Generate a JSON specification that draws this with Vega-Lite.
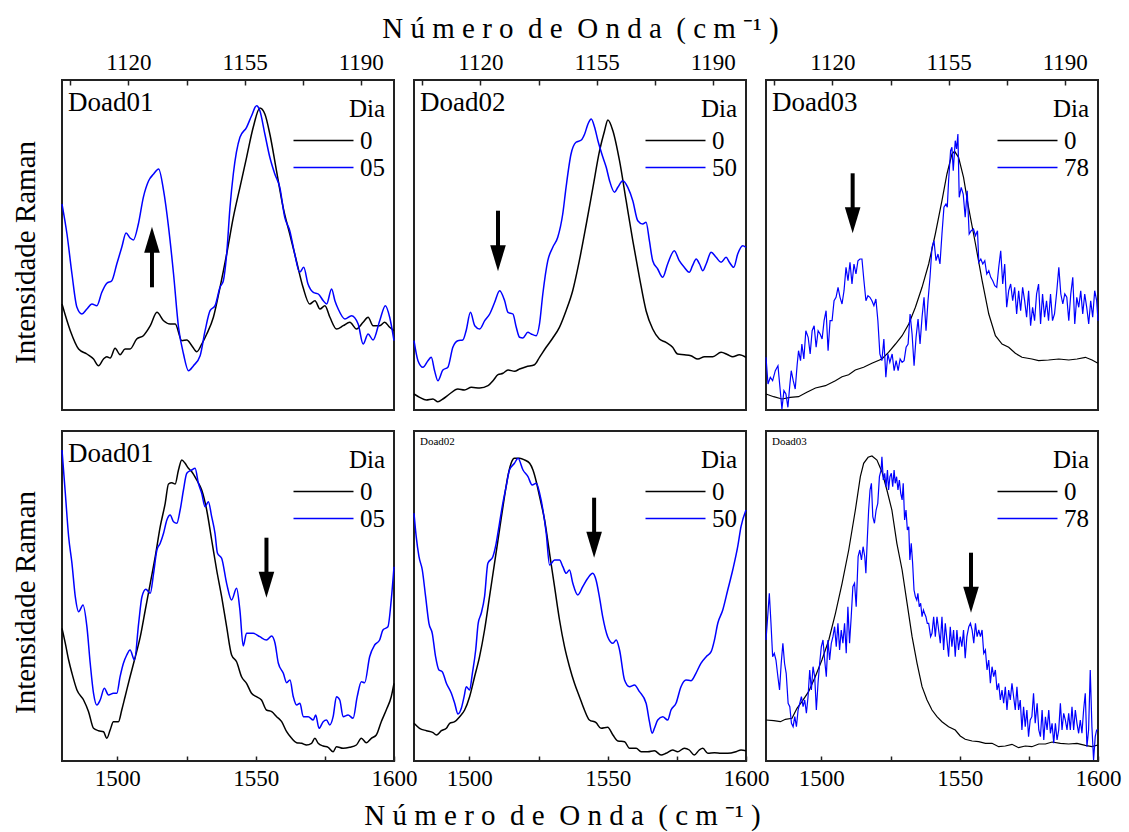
{
  "$schema": "https://vega.github.io/schema/vega-lite/v6.json",
  "background": "white",
  "padding": {"left": 10, "top": 13, "right": 5, "bottom": 5},
  "columns": 3,
  "bounds": "flush",
  "spacing": {"row": 21, "column": 20},
  "resolve": {
    "scale": {"x": "independent", "y": "independent", "color": "independent"},
    "axis": {"x": "independent", "y": "independent"},
    "legend": {"color": "independent"}
  },
  "datasets": {
    "t1": [
      {"wn":1100.0,"int":106.0,"dia":"0"},{"wn":1102.5,"int":79.3,"dia":"0"},{"wn":1105.0,"int":61.0,"dia":"0"},{"wn":1107.5,"int":56.0,"dia":"0"},{"wn":1109.5,"int":51.0,"dia":"0"},{"wn":1111.0,"int":44.3,"dia":"0"},{"wn":1112.5,"int":51.0,"dia":"0"},{"wn":1113.5,"int":53.3,"dia":"0"},{"wn":1114.5,"int":52.0,"dia":"0"},{"wn":1116.0,"int":61.7,"dia":"0"},{"wn":1117.5,"int":55.3,"dia":"0"},{"wn":1119.0,"int":61.0,"dia":"0"},{"wn":1120.5,"int":61.0,"dia":"0"},{"wn":1122.5,"int":71.0,"dia":"0"},{"wn":1124.5,"int":74.3,"dia":"0"},{"wn":1126.6,"int":84.3,"dia":"0"},{"wn":1128.6,"int":97.7,"dia":"0"},{"wn":1130.6,"int":89.3,"dia":"0"},{"wn":1132.6,"int":86.0,"dia":"0"},{"wn":1134.1,"int":86.0,"dia":"0"},{"wn":1136.1,"int":69.3,"dia":"0"},{"wn":1137.6,"int":70.0,"dia":"0"},{"wn":1139.1,"int":64.3,"dia":"0"},{"wn":1140.6,"int":58.3,"dia":"0"},{"wn":1142.1,"int":66.0,"dia":"0"},{"wn":1143.6,"int":76.0,"dia":"0"},{"wn":1145.6,"int":92.7,"dia":"0"},{"wn":1147.6,"int":122.7,"dia":"0"},{"wn":1149.6,"int":156.0,"dia":"0"},{"wn":1151.6,"int":192.7,"dia":"0"},{"wn":1153.6,"int":222.7,"dia":"0"},{"wn":1155.6,"int":252.7,"dia":"0"},{"wn":1157.6,"int":282.7,"dia":"0"},{"wn":1159.6,"int":302.0,"dia":"0"},{"wn":1161.1,"int":296.0,"dia":"0"},{"wn":1162.6,"int":276.0,"dia":"0"},{"wn":1164.6,"int":239.3,"dia":"0"},{"wn":1166.6,"int":202.7,"dia":"0"},{"wn":1168.6,"int":176.0,"dia":"0"},{"wn":1170.6,"int":149.3,"dia":"0"},{"wn":1172.6,"int":122.7,"dia":"0"},{"wn":1174.6,"int":106.0,"dia":"0"},{"wn":1176.2,"int":109.3,"dia":"0"},{"wn":1177.7,"int":101.0,"dia":"0"},{"wn":1179.2,"int":104.3,"dia":"0"},{"wn":1180.7,"int":92.7,"dia":"0"},{"wn":1182.7,"int":81.0,"dia":"0"},{"wn":1184.7,"int":84.3,"dia":"0"},{"wn":1186.7,"int":87.7,"dia":"0"},{"wn":1188.7,"int":81.0,"dia":"0"},{"wn":1190.7,"int":87.7,"dia":"0"},{"wn":1192.2,"int":92.7,"dia":"0"},{"wn":1193.7,"int":84.3,"dia":"0"},{"wn":1195.7,"int":84.3,"dia":"0"},{"wn":1197.2,"int":87.7,"dia":"0"},{"wn":1198.7,"int":82.7,"dia":"0"},{"wn":1200.0,"int":79.3,"dia":"0"},
      {"wn":1100.0,"int":206.0,"dia":"05"},{"wn":1101.5,"int":176.0,"dia":"05"},{"wn":1103.0,"int":136.0,"dia":"05"},{"wn":1104.5,"int":102.7,"dia":"05"},{"wn":1106.0,"int":96.0,"dia":"05"},{"wn":1107.5,"int":101.0,"dia":"05"},{"wn":1109.0,"int":106.0,"dia":"05"},{"wn":1110.5,"int":104.3,"dia":"05"},{"wn":1112.0,"int":117.7,"dia":"05"},{"wn":1113.5,"int":126.7,"dia":"05"},{"wn":1115.0,"int":129.3,"dia":"05"},{"wn":1116.5,"int":146.0,"dia":"05"},{"wn":1118.0,"int":162.7,"dia":"05"},{"wn":1119.3,"int":177.0,"dia":"05"},{"wn":1120.5,"int":172.0,"dia":"05"},{"wn":1121.5,"int":170.0,"dia":"05"},{"wn":1123.0,"int":186.0,"dia":"05"},{"wn":1124.5,"int":212.7,"dia":"05"},{"wn":1126.1,"int":229.3,"dia":"05"},{"wn":1127.6,"int":236.0,"dia":"05"},{"wn":1129.1,"int":241.0,"dia":"05"},{"wn":1130.6,"int":219.3,"dia":"05"},{"wn":1132.1,"int":182.7,"dia":"05"},{"wn":1133.6,"int":136.0,"dia":"05"},{"wn":1135.1,"int":82.7,"dia":"05"},{"wn":1136.6,"int":56.0,"dia":"05"},{"wn":1138.1,"int":39.3,"dia":"05"},{"wn":1139.6,"int":44.3,"dia":"05"},{"wn":1141.6,"int":54.3,"dia":"05"},{"wn":1143.1,"int":79.3,"dia":"05"},{"wn":1144.6,"int":99.3,"dia":"05"},{"wn":1146.1,"int":104.3,"dia":"05"},{"wn":1147.6,"int":122.7,"dia":"05"},{"wn":1148.6,"int":129.3,"dia":"05"},{"wn":1149.6,"int":156.0,"dia":"05"},{"wn":1150.6,"int":202.7,"dia":"05"},{"wn":1151.6,"int":236.0,"dia":"05"},{"wn":1153.6,"int":272.7,"dia":"05"},{"wn":1155.6,"int":282.7,"dia":"05"},{"wn":1157.1,"int":294.3,"dia":"05"},{"wn":1158.6,"int":304.3,"dia":"05"},{"wn":1159.6,"int":299.3,"dia":"05"},{"wn":1161.1,"int":276.0,"dia":"05"},{"wn":1162.6,"int":252.7,"dia":"05"},{"wn":1164.1,"int":236.0,"dia":"05"},{"wn":1165.6,"int":222.7,"dia":"05"},{"wn":1167.1,"int":192.7,"dia":"05"},{"wn":1168.6,"int":179.3,"dia":"05"},{"wn":1170.1,"int":156.0,"dia":"05"},{"wn":1171.6,"int":137.7,"dia":"05"},{"wn":1172.8,"int":142.7,"dia":"05"},{"wn":1174.1,"int":126.0,"dia":"05"},{"wn":1175.7,"int":117.7,"dia":"05"},{"wn":1177.2,"int":116.0,"dia":"05"},{"wn":1178.7,"int":109.3,"dia":"05"},{"wn":1179.7,"int":106.0,"dia":"05"},{"wn":1181.2,"int":121.0,"dia":"05"},{"wn":1182.2,"int":109.3,"dia":"05"},{"wn":1183.2,"int":101.0,"dia":"05"},{"wn":1185.2,"int":91.0,"dia":"05"},{"wn":1187.2,"int":94.3,"dia":"05"},{"wn":1189.2,"int":86.0,"dia":"05"},{"wn":1190.7,"int":66.0,"dia":"05"},{"wn":1192.2,"int":76.0,"dia":"05"},{"wn":1193.7,"int":70.0,"dia":"05"},{"wn":1195.7,"int":89.3,"dia":"05"},{"wn":1197.4,"int":104.3,"dia":"05"},{"wn":1198.7,"int":92.7,"dia":"05"},{"wn":1200.0,"int":69.3,"dia":"05"}
    ],
    "t2": [
      {"wn":1100.0,"int":16.0,"dia":"0"},{"wn":1101.7,"int":12.7,"dia":"0"},{"wn":1103.7,"int":10.0,"dia":"0"},{"wn":1105.7,"int":11.0,"dia":"0"},{"wn":1107.2,"int":8.3,"dia":"0"},{"wn":1108.7,"int":11.0,"dia":"0"},{"wn":1110.7,"int":16.0,"dia":"0"},{"wn":1113.2,"int":21.0,"dia":"0"},{"wn":1115.2,"int":20.0,"dia":"0"},{"wn":1117.3,"int":22.7,"dia":"0"},{"wn":1119.8,"int":22.0,"dia":"0"},{"wn":1122.3,"int":24.3,"dia":"0"},{"wn":1123.8,"int":29.3,"dia":"0"},{"wn":1125.3,"int":35.3,"dia":"0"},{"wn":1126.8,"int":36.7,"dia":"0"},{"wn":1128.3,"int":40.0,"dia":"0"},{"wn":1130.3,"int":38.7,"dia":"0"},{"wn":1131.8,"int":41.0,"dia":"0"},{"wn":1133.8,"int":43.3,"dia":"0"},{"wn":1136.3,"int":45.3,"dia":"0"},{"wn":1137.8,"int":52.7,"dia":"0"},{"wn":1139.8,"int":62.7,"dia":"0"},{"wn":1141.8,"int":72.0,"dia":"0"},{"wn":1143.8,"int":82.7,"dia":"0"},{"wn":1145.8,"int":99.3,"dia":"0"},{"wn":1147.8,"int":119.3,"dia":"0"},{"wn":1149.8,"int":149.3,"dia":"0"},{"wn":1151.9,"int":186.0,"dia":"0"},{"wn":1153.9,"int":222.7,"dia":"0"},{"wn":1155.9,"int":259.3,"dia":"0"},{"wn":1157.4,"int":279.3,"dia":"0"},{"wn":1158.4,"int":290.0,"dia":"0"},{"wn":1159.9,"int":279.3,"dia":"0"},{"wn":1161.9,"int":249.3,"dia":"0"},{"wn":1163.9,"int":209.3,"dia":"0"},{"wn":1165.9,"int":169.3,"dia":"0"},{"wn":1167.9,"int":132.7,"dia":"0"},{"wn":1169.9,"int":99.3,"dia":"0"},{"wn":1171.9,"int":81.0,"dia":"0"},{"wn":1173.9,"int":71.0,"dia":"0"},{"wn":1175.9,"int":67.7,"dia":"0"},{"wn":1177.9,"int":62.7,"dia":"0"},{"wn":1179.4,"int":56.0,"dia":"0"},{"wn":1181.4,"int":55.3,"dia":"0"},{"wn":1183.4,"int":54.3,"dia":"0"},{"wn":1185.5,"int":51.0,"dia":"0"},{"wn":1187.5,"int":53.3,"dia":"0"},{"wn":1190.0,"int":53.3,"dia":"0"},{"wn":1192.5,"int":57.7,"dia":"0"},{"wn":1194.5,"int":55.3,"dia":"0"},{"wn":1196.0,"int":53.3,"dia":"0"},{"wn":1198.0,"int":55.3,"dia":"0"},{"wn":1200.0,"int":52.7,"dia":"0"},
      {"wn":1100.0,"int":69.3,"dia":"50"},{"wn":1101.2,"int":49.3,"dia":"50"},{"wn":1102.7,"int":42.7,"dia":"50"},{"wn":1104.2,"int":49.3,"dia":"50"},{"wn":1105.2,"int":52.7,"dia":"50"},{"wn":1106.2,"int":39.3,"dia":"50"},{"wn":1107.2,"int":29.3,"dia":"50"},{"wn":1108.7,"int":40.0,"dia":"50"},{"wn":1110.2,"int":42.7,"dia":"50"},{"wn":1111.7,"int":62.7,"dia":"50"},{"wn":1113.2,"int":69.3,"dia":"50"},{"wn":1114.7,"int":70.0,"dia":"50"},{"wn":1115.7,"int":79.3,"dia":"50"},{"wn":1117.0,"int":97.7,"dia":"50"},{"wn":1118.3,"int":84.3,"dia":"50"},{"wn":1119.8,"int":81.0,"dia":"50"},{"wn":1121.3,"int":89.3,"dia":"50"},{"wn":1122.8,"int":96.0,"dia":"50"},{"wn":1124.3,"int":107.7,"dia":"50"},{"wn":1125.8,"int":119.3,"dia":"50"},{"wn":1127.3,"int":109.3,"dia":"50"},{"wn":1128.3,"int":97.7,"dia":"50"},{"wn":1129.8,"int":96.0,"dia":"50"},{"wn":1130.8,"int":82.7,"dia":"50"},{"wn":1131.8,"int":72.7,"dia":"50"},{"wn":1132.8,"int":72.0,"dia":"50"},{"wn":1134.3,"int":77.7,"dia":"50"},{"wn":1135.3,"int":76.0,"dia":"50"},{"wn":1136.8,"int":74.3,"dia":"50"},{"wn":1137.8,"int":86.0,"dia":"50"},{"wn":1138.8,"int":116.0,"dia":"50"},{"wn":1140.3,"int":149.3,"dia":"50"},{"wn":1141.8,"int":162.7,"dia":"50"},{"wn":1143.3,"int":172.7,"dia":"50"},{"wn":1144.8,"int":196.0,"dia":"50"},{"wn":1145.8,"int":222.7,"dia":"50"},{"wn":1147.3,"int":256.0,"dia":"50"},{"wn":1148.8,"int":267.7,"dia":"50"},{"wn":1150.4,"int":270.0,"dia":"50"},{"wn":1151.4,"int":276.0,"dia":"50"},{"wn":1152.4,"int":286.0,"dia":"50"},{"wn":1153.4,"int":291.0,"dia":"50"},{"wn":1154.4,"int":282.7,"dia":"50"},{"wn":1155.4,"int":269.3,"dia":"50"},{"wn":1156.9,"int":252.7,"dia":"50"},{"wn":1157.9,"int":242.7,"dia":"50"},{"wn":1158.9,"int":229.3,"dia":"50"},{"wn":1160.4,"int":217.7,"dia":"50"},{"wn":1161.4,"int":222.7,"dia":"50"},{"wn":1162.9,"int":229.3,"dia":"50"},{"wn":1164.4,"int":222.7,"dia":"50"},{"wn":1165.9,"int":209.3,"dia":"50"},{"wn":1167.4,"int":189.3,"dia":"50"},{"wn":1168.9,"int":186.0,"dia":"50"},{"wn":1169.9,"int":187.7,"dia":"50"},{"wn":1170.9,"int":169.3,"dia":"50"},{"wn":1171.9,"int":149.3,"dia":"50"},{"wn":1173.4,"int":141.0,"dia":"50"},{"wn":1174.9,"int":132.7,"dia":"50"},{"wn":1176.4,"int":146.0,"dia":"50"},{"wn":1178.4,"int":159.3,"dia":"50"},{"wn":1179.9,"int":149.3,"dia":"50"},{"wn":1181.4,"int":142.7,"dia":"50"},{"wn":1182.9,"int":137.7,"dia":"50"},{"wn":1183.9,"int":144.3,"dia":"50"},{"wn":1185.0,"int":151.0,"dia":"50"},{"wn":1186.0,"int":146.0,"dia":"50"},{"wn":1187.0,"int":139.3,"dia":"50"},{"wn":1188.0,"int":146.0,"dia":"50"},{"wn":1189.5,"int":157.7,"dia":"50"},{"wn":1191.0,"int":152.7,"dia":"50"},{"wn":1192.5,"int":147.7,"dia":"50"},{"wn":1194.0,"int":152.7,"dia":"50"},{"wn":1195.0,"int":147.7,"dia":"50"},{"wn":1196.3,"int":142.7,"dia":"50"},{"wn":1197.5,"int":156.0,"dia":"50"},{"wn":1199.0,"int":164.3,"dia":"50"},{"wn":1200.0,"int":162.7,"dia":"50"}
    ],
    "t3": [
      {"wn":1100.0,"int":16.0,"dia":"0"},{"wn":1102.3,"int":13.3,"dia":"0"},{"wn":1104.8,"int":11.0,"dia":"0"},{"wn":1107.3,"int":12.7,"dia":"0"},{"wn":1109.8,"int":13.3,"dia":"0"},{"wn":1112.3,"int":17.7,"dia":"0"},{"wn":1114.9,"int":22.0,"dia":"0"},{"wn":1117.9,"int":24.3,"dia":"0"},{"wn":1120.9,"int":29.3,"dia":"0"},{"wn":1122.9,"int":33.3,"dia":"0"},{"wn":1124.9,"int":35.3,"dia":"0"},{"wn":1126.9,"int":40.0,"dia":"0"},{"wn":1129.4,"int":42.7,"dia":"0"},{"wn":1131.9,"int":46.7,"dia":"0"},{"wn":1134.9,"int":51.0,"dia":"0"},{"wn":1136.9,"int":57.7,"dia":"0"},{"wn":1139.0,"int":66.0,"dia":"0"},{"wn":1141.0,"int":74.3,"dia":"0"},{"wn":1143.0,"int":86.0,"dia":"0"},{"wn":1145.0,"int":102.7,"dia":"0"},{"wn":1147.0,"int":122.7,"dia":"0"},{"wn":1149.0,"int":146.0,"dia":"0"},{"wn":1151.0,"int":176.0,"dia":"0"},{"wn":1153.0,"int":209.3,"dia":"0"},{"wn":1154.5,"int":236.0,"dia":"0"},{"wn":1156.0,"int":256.0,"dia":"0"},{"wn":1156.8,"int":258.7,"dia":"0"},{"wn":1158.0,"int":252.7,"dia":"0"},{"wn":1159.5,"int":232.7,"dia":"0"},{"wn":1161.0,"int":202.7,"dia":"0"},{"wn":1163.1,"int":166.0,"dia":"0"},{"wn":1165.1,"int":129.3,"dia":"0"},{"wn":1167.1,"int":96.0,"dia":"0"},{"wn":1169.1,"int":74.3,"dia":"0"},{"wn":1171.1,"int":66.0,"dia":"0"},{"wn":1173.1,"int":62.7,"dia":"0"},{"wn":1175.1,"int":56.7,"dia":"0"},{"wn":1177.1,"int":52.7,"dia":"0"},{"wn":1180.1,"int":51.0,"dia":"0"},{"wn":1182.1,"int":49.3,"dia":"0"},{"wn":1185.1,"int":50.0,"dia":"0"},{"wn":1188.2,"int":51.0,"dia":"0"},{"wn":1191.2,"int":50.0,"dia":"0"},{"wn":1193.7,"int":51.0,"dia":"0"},{"wn":1196.2,"int":52.7,"dia":"0"},{"wn":1198.2,"int":50.0,"dia":"0"},{"wn":1200.0,"int":46.7,"dia":"0"},
      {"wn":1100.0,"int":52.7,"dia":"78"},{"wn":1100.6,"int":26.0,"dia":"78"},{"wn":1101.3,"int":32.7,"dia":"78"},{"wn":1102.0,"int":29.3,"dia":"78"},{"wn":1102.8,"int":39.3,"dia":"78"},{"wn":1103.6,"int":44.3,"dia":"78"},{"wn":1104.2,"int":22.7,"dia":"78"},{"wn":1104.8,"int":1.0,"dia":"78"},{"wn":1105.4,"int":19.3,"dia":"78"},{"wn":1106.0,"int":16.0,"dia":"78"},{"wn":1106.6,"int":2.7,"dia":"78"},{"wn":1107.2,"int":26.0,"dia":"78"},{"wn":1107.6,"int":39.3,"dia":"78"},{"wn":1108.2,"int":29.3,"dia":"78"},{"wn":1108.8,"int":21.0,"dia":"78"},{"wn":1109.4,"int":46.0,"dia":"78"},{"wn":1109.8,"int":59.3,"dia":"78"},{"wn":1110.4,"int":49.3,"dia":"78"},{"wn":1110.8,"int":66.0,"dia":"78"},{"wn":1111.4,"int":51.0,"dia":"78"},{"wn":1112.0,"int":79.3,"dia":"78"},{"wn":1112.7,"int":72.7,"dia":"78"},{"wn":1113.3,"int":56.0,"dia":"78"},{"wn":1113.9,"int":79.3,"dia":"78"},{"wn":1114.5,"int":84.3,"dia":"78"},{"wn":1115.1,"int":62.7,"dia":"78"},{"wn":1115.7,"int":79.3,"dia":"78"},{"wn":1116.3,"int":76.0,"dia":"78"},{"wn":1116.9,"int":71.0,"dia":"78"},{"wn":1117.5,"int":89.3,"dia":"78"},{"wn":1118.1,"int":99.3,"dia":"78"},{"wn":1118.7,"int":59.3,"dia":"78"},{"wn":1119.3,"int":89.3,"dia":"78"},{"wn":1119.9,"int":89.3,"dia":"78"},{"wn":1120.5,"int":109.3,"dia":"78"},{"wn":1121.1,"int":112.7,"dia":"78"},{"wn":1121.7,"int":122.7,"dia":"78"},{"wn":1122.3,"int":112.7,"dia":"78"},{"wn":1122.9,"int":106.0,"dia":"78"},{"wn":1123.5,"int":119.3,"dia":"78"},{"wn":1124.1,"int":142.7,"dia":"78"},{"wn":1124.7,"int":129.3,"dia":"78"},{"wn":1125.3,"int":147.7,"dia":"78"},{"wn":1125.9,"int":126.0,"dia":"78"},{"wn":1126.5,"int":146.0,"dia":"78"},{"wn":1127.1,"int":136.0,"dia":"78"},{"wn":1127.7,"int":149.3,"dia":"78"},{"wn":1128.3,"int":151.0,"dia":"78"},{"wn":1128.9,"int":151.0,"dia":"78"},{"wn":1129.5,"int":129.3,"dia":"78"},{"wn":1130.1,"int":109.3,"dia":"78"},{"wn":1130.7,"int":114.3,"dia":"78"},{"wn":1131.3,"int":112.7,"dia":"78"},{"wn":1131.9,"int":109.3,"dia":"78"},{"wn":1132.5,"int":104.3,"dia":"78"},{"wn":1133.1,"int":111.0,"dia":"78"},{"wn":1133.7,"int":89.3,"dia":"78"},{"wn":1134.3,"int":56.0,"dia":"78"},{"wn":1134.9,"int":49.3,"dia":"78"},{"wn":1135.5,"int":71.0,"dia":"78"},{"wn":1136.1,"int":32.7,"dia":"78"},{"wn":1136.7,"int":56.0,"dia":"78"},{"wn":1137.3,"int":47.7,"dia":"78"},{"wn":1138.0,"int":56.0,"dia":"78"},{"wn":1138.6,"int":39.3,"dia":"78"},{"wn":1139.2,"int":49.3,"dia":"78"},{"wn":1139.8,"int":39.3,"dia":"78"},{"wn":1140.4,"int":51.0,"dia":"78"},{"wn":1141.0,"int":47.7,"dia":"78"},{"wn":1141.6,"int":49.3,"dia":"78"},{"wn":1142.2,"int":62.7,"dia":"78"},{"wn":1142.8,"int":66.0,"dia":"78"},{"wn":1143.4,"int":96.0,"dia":"78"},{"wn":1144.0,"int":76.0,"dia":"78"},{"wn":1144.6,"int":44.3,"dia":"78"},{"wn":1145.2,"int":72.7,"dia":"78"},{"wn":1145.8,"int":91.0,"dia":"78"},{"wn":1146.4,"int":66.0,"dia":"78"},{"wn":1147.0,"int":92.7,"dia":"78"},{"wn":1147.6,"int":112.7,"dia":"78"},{"wn":1148.2,"int":79.3,"dia":"78"},{"wn":1148.8,"int":109.3,"dia":"78"},{"wn":1149.4,"int":132.7,"dia":"78"},{"wn":1150.0,"int":162.7,"dia":"78"},{"wn":1150.6,"int":169.3,"dia":"78"},{"wn":1151.2,"int":149.3,"dia":"78"},{"wn":1151.8,"int":156.0,"dia":"78"},{"wn":1152.4,"int":146.0,"dia":"78"},{"wn":1153.0,"int":176.0,"dia":"78"},{"wn":1153.6,"int":202.7,"dia":"78"},{"wn":1154.2,"int":206.0,"dia":"78"},{"wn":1154.6,"int":202.7,"dia":"78"},{"wn":1155.0,"int":229.3,"dia":"78"},{"wn":1155.6,"int":259.3,"dia":"78"},{"wn":1156.0,"int":262.7,"dia":"78"},{"wn":1156.4,"int":239.3,"dia":"78"},{"wn":1157.0,"int":269.3,"dia":"78"},{"wn":1157.4,"int":261.0,"dia":"78"},{"wn":1157.8,"int":276.0,"dia":"78"},{"wn":1158.2,"int":212.7,"dia":"78"},{"wn":1158.8,"int":222.7,"dia":"78"},{"wn":1159.4,"int":216.0,"dia":"78"},{"wn":1160.0,"int":192.7,"dia":"78"},{"wn":1160.6,"int":219.3,"dia":"78"},{"wn":1161.2,"int":176.0,"dia":"78"},{"wn":1161.8,"int":179.3,"dia":"78"},{"wn":1162.5,"int":181.0,"dia":"78"},{"wn":1163.1,"int":174.3,"dia":"78"},{"wn":1163.7,"int":179.3,"dia":"78"},{"wn":1164.1,"int":147.7,"dia":"78"},{"wn":1164.7,"int":151.0,"dia":"78"},{"wn":1165.3,"int":146.0,"dia":"78"},{"wn":1165.9,"int":149.3,"dia":"78"},{"wn":1166.5,"int":136.0,"dia":"78"},{"wn":1167.1,"int":139.3,"dia":"78"},{"wn":1167.7,"int":132.7,"dia":"78"},{"wn":1168.3,"int":129.3,"dia":"78"},{"wn":1168.9,"int":124.3,"dia":"78"},{"wn":1169.5,"int":122.7,"dia":"78"},{"wn":1170.1,"int":142.7,"dia":"78"},{"wn":1170.7,"int":159.3,"dia":"78"},{"wn":1171.3,"int":126.0,"dia":"78"},{"wn":1171.9,"int":146.0,"dia":"78"},{"wn":1172.5,"int":102.7,"dia":"78"},{"wn":1173.1,"int":119.3,"dia":"78"},{"wn":1173.7,"int":126.0,"dia":"78"},{"wn":1174.3,"int":109.3,"dia":"78"},{"wn":1174.9,"int":122.7,"dia":"78"},{"wn":1175.5,"int":96.0,"dia":"78"},{"wn":1176.1,"int":119.3,"dia":"78"},{"wn":1176.7,"int":99.3,"dia":"78"},{"wn":1177.3,"int":122.7,"dia":"78"},{"wn":1177.9,"int":109.3,"dia":"78"},{"wn":1178.5,"int":92.7,"dia":"78"},{"wn":1179.1,"int":119.3,"dia":"78"},{"wn":1179.7,"int":84.3,"dia":"78"},{"wn":1180.3,"int":102.7,"dia":"78"},{"wn":1180.9,"int":89.3,"dia":"78"},{"wn":1181.5,"int":116.0,"dia":"78"},{"wn":1182.1,"int":126.0,"dia":"78"},{"wn":1182.7,"int":86.0,"dia":"78"},{"wn":1183.3,"int":116.0,"dia":"78"},{"wn":1183.9,"int":92.7,"dia":"78"},{"wn":1184.5,"int":109.3,"dia":"78"},{"wn":1185.1,"int":89.3,"dia":"78"},{"wn":1185.7,"int":116.0,"dia":"78"},{"wn":1186.3,"int":89.3,"dia":"78"},{"wn":1186.9,"int":96.0,"dia":"78"},{"wn":1187.6,"int":119.3,"dia":"78"},{"wn":1188.2,"int":142.7,"dia":"78"},{"wn":1188.8,"int":116.0,"dia":"78"},{"wn":1189.4,"int":106.0,"dia":"78"},{"wn":1190.0,"int":116.0,"dia":"78"},{"wn":1190.6,"int":112.7,"dia":"78"},{"wn":1191.2,"int":89.3,"dia":"78"},{"wn":1191.8,"int":116.0,"dia":"78"},{"wn":1192.4,"int":132.7,"dia":"78"},{"wn":1193.0,"int":86.0,"dia":"78"},{"wn":1193.6,"int":112.7,"dia":"78"},{"wn":1194.2,"int":102.7,"dia":"78"},{"wn":1194.8,"int":119.3,"dia":"78"},{"wn":1195.4,"int":96.0,"dia":"78"},{"wn":1196.0,"int":116.0,"dia":"78"},{"wn":1196.6,"int":102.7,"dia":"78"},{"wn":1197.2,"int":86.0,"dia":"78"},{"wn":1197.8,"int":109.3,"dia":"78"},{"wn":1198.4,"int":92.7,"dia":"78"},{"wn":1199.0,"int":119.3,"dia":"78"},{"wn":1199.6,"int":109.3,"dia":"78"},{"wn":1200.0,"int":89.3,"dia":"78"}
    ],
    "b1": [
      {"wn":1480.0,"int":132.7,"dia":"0"},{"wn":1481.2,"int":117.7,"dia":"0"},{"wn":1482.4,"int":101.0,"dia":"0"},{"wn":1483.6,"int":87.7,"dia":"0"},{"wn":1485.4,"int":71.0,"dia":"0"},{"wn":1487.8,"int":61.0,"dia":"0"},{"wn":1489.6,"int":49.3,"dia":"0"},{"wn":1491.4,"int":32.7,"dia":"0"},{"wn":1493.2,"int":30.3,"dia":"0"},{"wn":1495.0,"int":29.3,"dia":"0"},{"wn":1496.2,"int":22.7,"dia":"0"},{"wn":1497.4,"int":31.0,"dia":"0"},{"wn":1498.6,"int":39.3,"dia":"0"},{"wn":1500.4,"int":39.3,"dia":"0"},{"wn":1501.6,"int":51.0,"dia":"0"},{"wn":1502.8,"int":64.3,"dia":"0"},{"wn":1504.6,"int":84.3,"dia":"0"},{"wn":1506.5,"int":104.3,"dia":"0"},{"wn":1508.3,"int":124.3,"dia":"0"},{"wn":1510.1,"int":151.0,"dia":"0"},{"wn":1511.9,"int":177.7,"dia":"0"},{"wn":1513.7,"int":204.3,"dia":"0"},{"wn":1515.5,"int":234.3,"dia":"0"},{"wn":1517.3,"int":257.7,"dia":"0"},{"wn":1518.5,"int":277.0,"dia":"0"},{"wn":1519.7,"int":278.3,"dia":"0"},{"wn":1520.9,"int":277.0,"dia":"0"},{"wn":1522.1,"int":291.0,"dia":"0"},{"wn":1523.3,"int":301.0,"dia":"0"},{"wn":1524.5,"int":297.7,"dia":"0"},{"wn":1525.7,"int":292.7,"dia":"0"},{"wn":1526.9,"int":289.3,"dia":"0"},{"wn":1528.7,"int":281.0,"dia":"0"},{"wn":1530.5,"int":271.0,"dia":"0"},{"wn":1532.3,"int":251.0,"dia":"0"},{"wn":1534.1,"int":221.0,"dia":"0"},{"wn":1535.9,"int":191.0,"dia":"0"},{"wn":1537.7,"int":164.3,"dia":"0"},{"wn":1539.5,"int":134.3,"dia":"0"},{"wn":1541.3,"int":106.0,"dia":"0"},{"wn":1543.1,"int":99.3,"dia":"0"},{"wn":1544.9,"int":84.3,"dia":"0"},{"wn":1546.7,"int":77.7,"dia":"0"},{"wn":1548.5,"int":67.7,"dia":"0"},{"wn":1550.3,"int":64.3,"dia":"0"},{"wn":1552.1,"int":61.0,"dia":"0"},{"wn":1553.9,"int":51.0,"dia":"0"},{"wn":1555.8,"int":49.3,"dia":"0"},{"wn":1557.6,"int":44.3,"dia":"0"},{"wn":1559.4,"int":39.3,"dia":"0"},{"wn":1561.2,"int":29.3,"dia":"0"},{"wn":1563.0,"int":22.7,"dia":"0"},{"wn":1564.8,"int":18.3,"dia":"0"},{"wn":1566.6,"int":17.7,"dia":"0"},{"wn":1568.4,"int":16.0,"dia":"0"},{"wn":1570.2,"int":17.7,"dia":"0"},{"wn":1571.4,"int":22.7,"dia":"0"},{"wn":1572.6,"int":17.7,"dia":"0"},{"wn":1574.4,"int":15.0,"dia":"0"},{"wn":1576.2,"int":13.7,"dia":"0"},{"wn":1578.0,"int":9.3,"dia":"0"},{"wn":1579.2,"int":14.3,"dia":"0"},{"wn":1581.6,"int":12.7,"dia":"0"},{"wn":1584.0,"int":13.7,"dia":"0"},{"wn":1586.4,"int":16.0,"dia":"0"},{"wn":1588.2,"int":22.7,"dia":"0"},{"wn":1590.0,"int":18.3,"dia":"0"},{"wn":1591.8,"int":22.7,"dia":"0"},{"wn":1593.6,"int":26.0,"dia":"0"},{"wn":1595.4,"int":39.3,"dia":"0"},{"wn":1597.2,"int":51.0,"dia":"0"},{"wn":1599.0,"int":64.3,"dia":"0"},{"wn":1600.0,"int":77.7,"dia":"0"},
      {"wn":1480.0,"int":311.0,"dia":"05"},{"wn":1481.2,"int":267.7,"dia":"05"},{"wn":1482.4,"int":224.3,"dia":"05"},{"wn":1483.6,"int":197.7,"dia":"05"},{"wn":1484.8,"int":164.3,"dia":"05"},{"wn":1486.0,"int":149.3,"dia":"05"},{"wn":1487.6,"int":156.0,"dia":"05"},{"wn":1489.0,"int":134.3,"dia":"05"},{"wn":1490.2,"int":97.7,"dia":"05"},{"wn":1491.4,"int":67.7,"dia":"05"},{"wn":1492.6,"int":56.0,"dia":"05"},{"wn":1493.8,"int":61.0,"dia":"05"},{"wn":1495.3,"int":72.7,"dia":"05"},{"wn":1496.8,"int":66.0,"dia":"05"},{"wn":1498.6,"int":67.7,"dia":"05"},{"wn":1499.8,"int":67.7,"dia":"05"},{"wn":1501.0,"int":84.3,"dia":"05"},{"wn":1502.2,"int":97.7,"dia":"05"},{"wn":1503.4,"int":106.0,"dia":"05"},{"wn":1504.6,"int":111.0,"dia":"05"},{"wn":1506.2,"int":101.0,"dia":"05"},{"wn":1507.7,"int":137.7,"dia":"05"},{"wn":1508.9,"int":164.3,"dia":"05"},{"wn":1510.3,"int":171.7,"dia":"05"},{"wn":1511.9,"int":167.7,"dia":"05"},{"wn":1513.1,"int":187.7,"dia":"05"},{"wn":1514.3,"int":211.0,"dia":"05"},{"wn":1515.5,"int":217.7,"dia":"05"},{"wn":1516.7,"int":227.7,"dia":"05"},{"wn":1517.9,"int":241.0,"dia":"05"},{"wn":1519.1,"int":246.0,"dia":"05"},{"wn":1520.3,"int":239.3,"dia":"05"},{"wn":1521.5,"int":237.7,"dia":"05"},{"wn":1522.7,"int":251.0,"dia":"05"},{"wn":1523.9,"int":271.0,"dia":"05"},{"wn":1525.1,"int":287.7,"dia":"05"},{"wn":1526.9,"int":291.0,"dia":"05"},{"wn":1528.1,"int":292.7,"dia":"05"},{"wn":1529.3,"int":277.7,"dia":"05"},{"wn":1530.5,"int":267.7,"dia":"05"},{"wn":1531.7,"int":254.3,"dia":"05"},{"wn":1532.9,"int":259.3,"dia":"05"},{"wn":1534.1,"int":244.3,"dia":"05"},{"wn":1535.3,"int":227.7,"dia":"05"},{"wn":1536.2,"int":207.7,"dia":"05"},{"wn":1537.7,"int":202.7,"dia":"05"},{"wn":1539.5,"int":177.7,"dia":"05"},{"wn":1541.3,"int":161.0,"dia":"05"},{"wn":1543.1,"int":172.7,"dia":"05"},{"wn":1544.3,"int":151.0,"dia":"05"},{"wn":1545.5,"int":115.0,"dia":"05"},{"wn":1546.7,"int":127.7,"dia":"05"},{"wn":1549.1,"int":127.7,"dia":"05"},{"wn":1551.5,"int":124.3,"dia":"05"},{"wn":1553.9,"int":121.0,"dia":"05"},{"wn":1555.8,"int":125.0,"dia":"05"},{"wn":1557.0,"int":117.7,"dia":"05"},{"wn":1558.2,"int":97.7,"dia":"05"},{"wn":1560.0,"int":87.7,"dia":"05"},{"wn":1561.2,"int":78.3,"dia":"05"},{"wn":1562.4,"int":81.0,"dia":"05"},{"wn":1563.6,"int":64.3,"dia":"05"},{"wn":1564.8,"int":56.0,"dia":"05"},{"wn":1566.0,"int":57.7,"dia":"05"},{"wn":1567.2,"int":44.3,"dia":"05"},{"wn":1569.0,"int":44.3,"dia":"05"},{"wn":1570.8,"int":41.0,"dia":"05"},{"wn":1571.7,"int":46.0,"dia":"05"},{"wn":1572.9,"int":32.7,"dia":"05"},{"wn":1574.4,"int":39.3,"dia":"05"},{"wn":1575.6,"int":41.0,"dia":"05"},{"wn":1576.8,"int":36.0,"dia":"05"},{"wn":1578.0,"int":44.3,"dia":"05"},{"wn":1579.2,"int":64.3,"dia":"05"},{"wn":1580.4,"int":61.0,"dia":"05"},{"wn":1581.6,"int":44.3,"dia":"05"},{"wn":1583.4,"int":46.0,"dia":"05"},{"wn":1585.2,"int":42.7,"dia":"05"},{"wn":1586.7,"int":64.3,"dia":"05"},{"wn":1588.2,"int":79.3,"dia":"05"},{"wn":1589.4,"int":78.3,"dia":"05"},{"wn":1591.2,"int":104.3,"dia":"05"},{"wn":1593.0,"int":116.0,"dia":"05"},{"wn":1594.8,"int":121.0,"dia":"05"},{"wn":1596.0,"int":131.0,"dia":"05"},{"wn":1597.8,"int":134.3,"dia":"05"},{"wn":1599.0,"int":161.0,"dia":"05"},{"wn":1600.0,"int":194.3,"dia":"05"}
    ],
    "b2": [
      {"wn":1480.0,"int":37.7,"dia":"0"},{"wn":1482.0,"int":32.7,"dia":"0"},{"wn":1484.5,"int":30.3,"dia":"0"},{"wn":1486.9,"int":28.3,"dia":"0"},{"wn":1488.1,"int":26.0,"dia":"0"},{"wn":1489.9,"int":30.3,"dia":"0"},{"wn":1491.7,"int":32.7,"dia":"0"},{"wn":1492.9,"int":37.7,"dia":"0"},{"wn":1494.7,"int":39.3,"dia":"0"},{"wn":1496.5,"int":44.3,"dia":"0"},{"wn":1498.3,"int":51.0,"dia":"0"},{"wn":1500.1,"int":64.3,"dia":"0"},{"wn":1501.9,"int":84.3,"dia":"0"},{"wn":1503.7,"int":104.3,"dia":"0"},{"wn":1505.5,"int":131.0,"dia":"0"},{"wn":1507.3,"int":164.3,"dia":"0"},{"wn":1509.1,"int":197.7,"dia":"0"},{"wn":1510.9,"int":231.0,"dia":"0"},{"wn":1512.7,"int":264.3,"dia":"0"},{"wn":1513.9,"int":284.3,"dia":"0"},{"wn":1515.1,"int":297.7,"dia":"0"},{"wn":1516.3,"int":302.7,"dia":"0"},{"wn":1518.2,"int":302.7,"dia":"0"},{"wn":1520.0,"int":301.0,"dia":"0"},{"wn":1521.8,"int":297.7,"dia":"0"},{"wn":1523.0,"int":291.0,"dia":"0"},{"wn":1524.2,"int":279.3,"dia":"0"},{"wn":1525.4,"int":264.3,"dia":"0"},{"wn":1527.2,"int":241.0,"dia":"0"},{"wn":1529.0,"int":207.7,"dia":"0"},{"wn":1530.8,"int":174.3,"dia":"0"},{"wn":1532.6,"int":141.0,"dia":"0"},{"wn":1534.4,"int":114.3,"dia":"0"},{"wn":1536.2,"int":94.3,"dia":"0"},{"wn":1538.0,"int":77.7,"dia":"0"},{"wn":1539.8,"int":64.3,"dia":"0"},{"wn":1541.6,"int":51.0,"dia":"0"},{"wn":1543.4,"int":41.0,"dia":"0"},{"wn":1545.8,"int":38.3,"dia":"0"},{"wn":1547.6,"int":32.7,"dia":"0"},{"wn":1550.0,"int":33.7,"dia":"0"},{"wn":1551.9,"int":26.0,"dia":"0"},{"wn":1553.7,"int":20.0,"dia":"0"},{"wn":1556.1,"int":19.3,"dia":"0"},{"wn":1557.9,"int":12.7,"dia":"0"},{"wn":1560.3,"int":12.7,"dia":"0"},{"wn":1562.1,"int":9.3,"dia":"0"},{"wn":1564.5,"int":9.3,"dia":"0"},{"wn":1566.9,"int":10.3,"dia":"0"},{"wn":1569.3,"int":6.0,"dia":"0"},{"wn":1571.1,"int":7.7,"dia":"0"},{"wn":1573.5,"int":11.0,"dia":"0"},{"wn":1575.3,"int":9.3,"dia":"0"},{"wn":1577.7,"int":12.7,"dia":"0"},{"wn":1579.5,"int":11.0,"dia":"0"},{"wn":1581.3,"int":6.0,"dia":"0"},{"wn":1583.1,"int":11.0,"dia":"0"},{"wn":1584.4,"int":12.7,"dia":"0"},{"wn":1586.2,"int":7.7,"dia":"0"},{"wn":1588.6,"int":8.3,"dia":"0"},{"wn":1591.0,"int":7.7,"dia":"0"},{"wn":1593.4,"int":7.7,"dia":"0"},{"wn":1596.4,"int":9.3,"dia":"0"},{"wn":1598.2,"int":11.0,"dia":"0"},{"wn":1600.0,"int":10.3,"dia":"0"},
      {"wn":1480.0,"int":247.7,"dia":"50"},{"wn":1480.8,"int":224.3,"dia":"50"},{"wn":1481.8,"int":204.3,"dia":"50"},{"wn":1483.0,"int":191.0,"dia":"50"},{"wn":1484.2,"int":164.3,"dia":"50"},{"wn":1485.4,"int":137.7,"dia":"50"},{"wn":1486.6,"int":127.7,"dia":"50"},{"wn":1487.8,"int":104.3,"dia":"50"},{"wn":1489.0,"int":91.0,"dia":"50"},{"wn":1490.2,"int":89.3,"dia":"50"},{"wn":1491.7,"int":77.7,"dia":"50"},{"wn":1493.5,"int":67.7,"dia":"50"},{"wn":1494.7,"int":57.7,"dia":"50"},{"wn":1495.9,"int":47.0,"dia":"50"},{"wn":1497.1,"int":52.7,"dia":"50"},{"wn":1498.1,"int":64.3,"dia":"50"},{"wn":1498.9,"int":74.3,"dia":"50"},{"wn":1500.1,"int":71.0,"dia":"50"},{"wn":1501.1,"int":87.7,"dia":"50"},{"wn":1502.3,"int":111.0,"dia":"50"},{"wn":1503.2,"int":137.7,"dia":"50"},{"wn":1504.3,"int":147.7,"dia":"50"},{"wn":1505.5,"int":164.3,"dia":"50"},{"wn":1506.7,"int":197.7,"dia":"50"},{"wn":1508.5,"int":204.3,"dia":"50"},{"wn":1509.7,"int":217.7,"dia":"50"},{"wn":1510.9,"int":237.7,"dia":"50"},{"wn":1512.1,"int":257.7,"dia":"50"},{"wn":1513.3,"int":274.3,"dia":"50"},{"wn":1514.5,"int":291.0,"dia":"50"},{"wn":1516.3,"int":297.7,"dia":"50"},{"wn":1517.6,"int":302.7,"dia":"50"},{"wn":1519.4,"int":291.0,"dia":"50"},{"wn":1521.2,"int":284.3,"dia":"50"},{"wn":1522.7,"int":276.0,"dia":"50"},{"wn":1524.2,"int":277.7,"dia":"50"},{"wn":1525.4,"int":267.7,"dia":"50"},{"wn":1526.6,"int":251.0,"dia":"50"},{"wn":1527.8,"int":227.7,"dia":"50"},{"wn":1529.0,"int":196.0,"dia":"50"},{"wn":1530.8,"int":201.0,"dia":"50"},{"wn":1532.6,"int":201.0,"dia":"50"},{"wn":1533.8,"int":194.3,"dia":"50"},{"wn":1535.0,"int":187.7,"dia":"50"},{"wn":1536.2,"int":191.0,"dia":"50"},{"wn":1537.4,"int":177.7,"dia":"50"},{"wn":1539.2,"int":166.0,"dia":"50"},{"wn":1541.0,"int":174.3,"dia":"50"},{"wn":1542.8,"int":182.7,"dia":"50"},{"wn":1544.6,"int":187.7,"dia":"50"},{"wn":1545.8,"int":181.0,"dia":"50"},{"wn":1547.0,"int":164.3,"dia":"50"},{"wn":1548.2,"int":144.3,"dia":"50"},{"wn":1550.0,"int":124.3,"dia":"50"},{"wn":1551.9,"int":117.7,"dia":"50"},{"wn":1553.1,"int":121.0,"dia":"50"},{"wn":1554.3,"int":111.0,"dia":"50"},{"wn":1556.1,"int":81.0,"dia":"50"},{"wn":1557.9,"int":74.3,"dia":"50"},{"wn":1559.7,"int":76.0,"dia":"50"},{"wn":1561.5,"int":69.3,"dia":"50"},{"wn":1563.9,"int":57.7,"dia":"50"},{"wn":1565.1,"int":39.3,"dia":"50"},{"wn":1566.1,"int":27.7,"dia":"50"},{"wn":1566.9,"int":32.7,"dia":"50"},{"wn":1568.1,"int":41.0,"dia":"50"},{"wn":1569.9,"int":44.3,"dia":"50"},{"wn":1571.7,"int":41.0,"dia":"50"},{"wn":1572.9,"int":51.0,"dia":"50"},{"wn":1574.7,"int":57.7,"dia":"50"},{"wn":1576.5,"int":74.3,"dia":"50"},{"wn":1578.3,"int":81.0,"dia":"50"},{"wn":1580.1,"int":80.3,"dia":"50"},{"wn":1581.9,"int":87.7,"dia":"50"},{"wn":1583.7,"int":97.7,"dia":"50"},{"wn":1585.6,"int":104.3,"dia":"50"},{"wn":1587.4,"int":109.3,"dia":"50"},{"wn":1588.6,"int":121.0,"dia":"50"},{"wn":1589.8,"int":137.7,"dia":"50"},{"wn":1591.6,"int":151.0,"dia":"50"},{"wn":1593.4,"int":171.0,"dia":"50"},{"wn":1595.2,"int":191.0,"dia":"50"},{"wn":1597.0,"int":214.3,"dia":"50"},{"wn":1598.2,"int":234.3,"dia":"50"},{"wn":1600.0,"int":251.0,"dia":"50"}
    ],
    "b3": [
      {"wn":1480.0,"int":41.0,"dia":"0"},{"wn":1482.8,"int":40.3,"dia":"0"},{"wn":1485.2,"int":39.3,"dia":"0"},{"wn":1487.0,"int":41.7,"dia":"0"},{"wn":1489.4,"int":42.7,"dia":"0"},{"wn":1491.2,"int":52.7,"dia":"0"},{"wn":1493.0,"int":59.3,"dia":"0"},{"wn":1495.4,"int":69.3,"dia":"0"},{"wn":1497.8,"int":84.3,"dia":"0"},{"wn":1500.2,"int":101.0,"dia":"0"},{"wn":1502.7,"int":121.0,"dia":"0"},{"wn":1505.1,"int":147.7,"dia":"0"},{"wn":1507.5,"int":177.7,"dia":"0"},{"wn":1509.9,"int":211.0,"dia":"0"},{"wn":1512.3,"int":251.0,"dia":"0"},{"wn":1514.1,"int":284.3,"dia":"0"},{"wn":1515.3,"int":297.7,"dia":"0"},{"wn":1516.9,"int":303.7,"dia":"0"},{"wn":1518.3,"int":305.0,"dia":"0"},{"wn":1520.1,"int":301.0,"dia":"0"},{"wn":1521.9,"int":289.3,"dia":"0"},{"wn":1523.7,"int":271.0,"dia":"0"},{"wn":1525.5,"int":251.0,"dia":"0"},{"wn":1527.3,"int":217.7,"dia":"0"},{"wn":1529.2,"int":191.0,"dia":"0"},{"wn":1531.0,"int":157.7,"dia":"0"},{"wn":1532.8,"int":124.3,"dia":"0"},{"wn":1534.6,"int":97.7,"dia":"0"},{"wn":1536.4,"int":74.3,"dia":"0"},{"wn":1538.2,"int":61.0,"dia":"0"},{"wn":1540.0,"int":51.0,"dia":"0"},{"wn":1541.8,"int":44.3,"dia":"0"},{"wn":1543.6,"int":39.3,"dia":"0"},{"wn":1546.0,"int":34.3,"dia":"0"},{"wn":1548.4,"int":31.0,"dia":"0"},{"wn":1550.2,"int":25.0,"dia":"0"},{"wn":1552.0,"int":21.7,"dia":"0"},{"wn":1554.5,"int":20.0,"dia":"0"},{"wn":1556.9,"int":19.3,"dia":"0"},{"wn":1559.3,"int":17.7,"dia":"0"},{"wn":1561.7,"int":17.7,"dia":"0"},{"wn":1564.1,"int":14.3,"dia":"0"},{"wn":1566.5,"int":15.0,"dia":"0"},{"wn":1568.9,"int":16.7,"dia":"0"},{"wn":1571.3,"int":13.3,"dia":"0"},{"wn":1573.7,"int":15.0,"dia":"0"},{"wn":1576.1,"int":14.3,"dia":"0"},{"wn":1578.6,"int":17.0,"dia":"0"},{"wn":1581.0,"int":17.0,"dia":"0"},{"wn":1583.4,"int":19.0,"dia":"0"},{"wn":1586.4,"int":17.7,"dia":"0"},{"wn":1589.4,"int":17.0,"dia":"0"},{"wn":1592.4,"int":17.7,"dia":"0"},{"wn":1595.4,"int":15.7,"dia":"0"},{"wn":1597.8,"int":14.3,"dia":"0"},{"wn":1600.0,"int":16.0,"dia":"0"},
      {"wn":1480.0,"int":121.0,"dia":"78"},{"wn":1480.7,"int":147.7,"dia":"78"},{"wn":1481.2,"int":167.7,"dia":"78"},{"wn":1481.8,"int":137.7,"dia":"78"},{"wn":1482.4,"int":104.3,"dia":"78"},{"wn":1483.0,"int":107.7,"dia":"78"},{"wn":1483.6,"int":101.0,"dia":"78"},{"wn":1484.3,"int":84.3,"dia":"78"},{"wn":1484.9,"int":71.0,"dia":"78"},{"wn":1485.5,"int":97.7,"dia":"78"},{"wn":1486.1,"int":117.7,"dia":"78"},{"wn":1486.7,"int":97.7,"dia":"78"},{"wn":1487.3,"int":87.7,"dia":"78"},{"wn":1488.0,"int":57.7,"dia":"78"},{"wn":1488.6,"int":54.3,"dia":"78"},{"wn":1489.2,"int":37.7,"dia":"78"},{"wn":1489.8,"int":34.3,"dia":"78"},{"wn":1490.4,"int":44.3,"dia":"78"},{"wn":1491.0,"int":34.3,"dia":"78"},{"wn":1491.6,"int":51.0,"dia":"78"},{"wn":1492.2,"int":57.7,"dia":"78"},{"wn":1492.8,"int":64.3,"dia":"78"},{"wn":1493.4,"int":54.3,"dia":"78"},{"wn":1494.0,"int":61.0,"dia":"78"},{"wn":1494.6,"int":47.7,"dia":"78"},{"wn":1495.2,"int":64.3,"dia":"78"},{"wn":1495.8,"int":91.0,"dia":"78"},{"wn":1496.4,"int":71.0,"dia":"78"},{"wn":1497.0,"int":94.3,"dia":"78"},{"wn":1497.6,"int":84.3,"dia":"78"},{"wn":1498.2,"int":51.0,"dia":"78"},{"wn":1498.8,"int":77.7,"dia":"78"},{"wn":1499.4,"int":97.7,"dia":"78"},{"wn":1500.0,"int":114.3,"dia":"78"},{"wn":1500.6,"int":121.0,"dia":"78"},{"wn":1501.2,"int":101.0,"dia":"78"},{"wn":1501.8,"int":84.3,"dia":"78"},{"wn":1502.4,"int":121.0,"dia":"78"},{"wn":1503.0,"int":101.0,"dia":"78"},{"wn":1503.6,"int":117.7,"dia":"78"},{"wn":1504.2,"int":124.3,"dia":"78"},{"wn":1504.8,"int":134.3,"dia":"78"},{"wn":1505.4,"int":114.3,"dia":"78"},{"wn":1506.0,"int":137.7,"dia":"78"},{"wn":1506.6,"int":111.0,"dia":"78"},{"wn":1507.2,"int":131.0,"dia":"78"},{"wn":1507.8,"int":117.7,"dia":"78"},{"wn":1508.4,"int":137.7,"dia":"78"},{"wn":1509.0,"int":107.7,"dia":"78"},{"wn":1509.6,"int":154.3,"dia":"78"},{"wn":1510.2,"int":117.7,"dia":"78"},{"wn":1510.8,"int":144.3,"dia":"78"},{"wn":1511.4,"int":174.3,"dia":"78"},{"wn":1512.0,"int":177.7,"dia":"78"},{"wn":1512.6,"int":154.3,"dia":"78"},{"wn":1513.3,"int":204.3,"dia":"78"},{"wn":1513.9,"int":211.0,"dia":"78"},{"wn":1514.5,"int":201.0,"dia":"78"},{"wn":1515.1,"int":214.3,"dia":"78"},{"wn":1515.7,"int":204.3,"dia":"78"},{"wn":1516.1,"int":187.7,"dia":"78"},{"wn":1516.6,"int":221.0,"dia":"78"},{"wn":1517.1,"int":251.0,"dia":"78"},{"wn":1517.6,"int":271.0,"dia":"78"},{"wn":1518.1,"int":277.7,"dia":"78"},{"wn":1518.6,"int":244.3,"dia":"78"},{"wn":1519.2,"int":237.7,"dia":"78"},{"wn":1519.8,"int":251.0,"dia":"78"},{"wn":1520.4,"int":257.7,"dia":"78"},{"wn":1521.0,"int":284.3,"dia":"78"},{"wn":1521.6,"int":291.0,"dia":"78"},{"wn":1521.9,"int":304.3,"dia":"78"},{"wn":1522.4,"int":281.0,"dia":"78"},{"wn":1522.9,"int":287.7,"dia":"78"},{"wn":1523.4,"int":274.3,"dia":"78"},{"wn":1523.9,"int":291.0,"dia":"78"},{"wn":1524.3,"int":271.0,"dia":"78"},{"wn":1524.8,"int":284.3,"dia":"78"},{"wn":1525.3,"int":287.7,"dia":"78"},{"wn":1525.8,"int":274.3,"dia":"78"},{"wn":1526.3,"int":291.0,"dia":"78"},{"wn":1526.7,"int":277.7,"dia":"78"},{"wn":1527.2,"int":284.3,"dia":"78"},{"wn":1527.7,"int":271.0,"dia":"78"},{"wn":1528.2,"int":281.0,"dia":"78"},{"wn":1528.7,"int":267.7,"dia":"78"},{"wn":1529.2,"int":261.0,"dia":"78"},{"wn":1529.6,"int":277.7,"dia":"78"},{"wn":1530.1,"int":241.0,"dia":"78"},{"wn":1530.6,"int":251.0,"dia":"78"},{"wn":1531.1,"int":231.0,"dia":"78"},{"wn":1531.6,"int":234.3,"dia":"78"},{"wn":1532.0,"int":201.0,"dia":"78"},{"wn":1532.5,"int":217.7,"dia":"78"},{"wn":1533.0,"int":197.7,"dia":"78"},{"wn":1533.5,"int":171.0,"dia":"78"},{"wn":1534.0,"int":164.3,"dia":"78"},{"wn":1534.5,"int":161.0,"dia":"78"},{"wn":1534.9,"int":167.7,"dia":"78"},{"wn":1535.4,"int":154.3,"dia":"78"},{"wn":1535.9,"int":157.7,"dia":"78"},{"wn":1536.4,"int":144.3,"dia":"78"},{"wn":1536.9,"int":151.0,"dia":"78"},{"wn":1537.3,"int":147.7,"dia":"78"},{"wn":1537.8,"int":144.3,"dia":"78"},{"wn":1538.3,"int":137.7,"dia":"78"},{"wn":1538.8,"int":137.7,"dia":"78"},{"wn":1539.5,"int":124.3,"dia":"78"},{"wn":1540.0,"int":127.7,"dia":"78"},{"wn":1540.6,"int":144.3,"dia":"78"},{"wn":1541.2,"int":124.3,"dia":"78"},{"wn":1541.8,"int":144.3,"dia":"78"},{"wn":1542.4,"int":131.0,"dia":"78"},{"wn":1543.0,"int":117.7,"dia":"78"},{"wn":1543.6,"int":144.3,"dia":"78"},{"wn":1544.2,"int":111.0,"dia":"78"},{"wn":1544.8,"int":137.7,"dia":"78"},{"wn":1545.4,"int":121.0,"dia":"78"},{"wn":1546.0,"int":104.3,"dia":"78"},{"wn":1546.6,"int":134.3,"dia":"78"},{"wn":1547.2,"int":114.3,"dia":"78"},{"wn":1547.8,"int":131.0,"dia":"78"},{"wn":1548.4,"int":104.3,"dia":"78"},{"wn":1549.0,"int":131.0,"dia":"78"},{"wn":1549.6,"int":111.0,"dia":"78"},{"wn":1550.2,"int":124.3,"dia":"78"},{"wn":1550.8,"int":114.3,"dia":"78"},{"wn":1551.4,"int":131.0,"dia":"78"},{"wn":1552.0,"int":102.7,"dia":"78"},{"wn":1552.6,"int":124.3,"dia":"78"},{"wn":1553.3,"int":134.3,"dia":"78"},{"wn":1553.9,"int":137.7,"dia":"78"},{"wn":1554.5,"int":131.0,"dia":"78"},{"wn":1555.1,"int":117.7,"dia":"78"},{"wn":1555.7,"int":137.7,"dia":"78"},{"wn":1556.3,"int":124.3,"dia":"78"},{"wn":1556.9,"int":131.0,"dia":"78"},{"wn":1557.5,"int":124.3,"dia":"78"},{"wn":1558.1,"int":131.0,"dia":"78"},{"wn":1558.7,"int":107.7,"dia":"78"},{"wn":1559.3,"int":111.0,"dia":"78"},{"wn":1559.9,"int":91.0,"dia":"78"},{"wn":1560.5,"int":101.0,"dia":"78"},{"wn":1561.1,"int":77.7,"dia":"78"},{"wn":1561.7,"int":94.3,"dia":"78"},{"wn":1562.3,"int":84.3,"dia":"78"},{"wn":1562.9,"int":91.0,"dia":"78"},{"wn":1563.5,"int":71.0,"dia":"78"},{"wn":1564.1,"int":77.7,"dia":"78"},{"wn":1564.7,"int":61.0,"dia":"78"},{"wn":1565.3,"int":71.0,"dia":"78"},{"wn":1565.9,"int":57.7,"dia":"78"},{"wn":1566.5,"int":74.3,"dia":"78"},{"wn":1567.1,"int":51.0,"dia":"78"},{"wn":1567.7,"int":71.0,"dia":"78"},{"wn":1568.3,"int":61.0,"dia":"78"},{"wn":1568.9,"int":77.7,"dia":"78"},{"wn":1569.5,"int":64.3,"dia":"78"},{"wn":1570.1,"int":51.0,"dia":"78"},{"wn":1570.7,"int":74.3,"dia":"78"},{"wn":1571.3,"int":51.0,"dia":"78"},{"wn":1571.9,"int":61.0,"dia":"78"},{"wn":1572.5,"int":31.0,"dia":"78"},{"wn":1573.1,"int":54.3,"dia":"78"},{"wn":1573.7,"int":34.3,"dia":"78"},{"wn":1574.3,"int":51.0,"dia":"78"},{"wn":1574.9,"int":24.3,"dia":"78"},{"wn":1575.5,"int":41.0,"dia":"78"},{"wn":1576.1,"int":44.3,"dia":"78"},{"wn":1576.7,"int":67.7,"dia":"78"},{"wn":1577.3,"int":37.7,"dia":"78"},{"wn":1578.0,"int":57.7,"dia":"78"},{"wn":1578.6,"int":31.0,"dia":"78"},{"wn":1579.2,"int":24.3,"dia":"78"},{"wn":1579.8,"int":51.0,"dia":"78"},{"wn":1580.4,"int":21.0,"dia":"78"},{"wn":1581.0,"int":44.3,"dia":"78"},{"wn":1581.6,"int":31.0,"dia":"78"},{"wn":1582.2,"int":51.0,"dia":"78"},{"wn":1582.8,"int":27.7,"dia":"78"},{"wn":1583.4,"int":37.7,"dia":"78"},{"wn":1584.0,"int":17.7,"dia":"78"},{"wn":1584.6,"int":37.7,"dia":"78"},{"wn":1585.2,"int":21.0,"dia":"78"},{"wn":1585.8,"int":31.0,"dia":"78"},{"wn":1586.4,"int":57.7,"dia":"78"},{"wn":1587.0,"int":31.0,"dia":"78"},{"wn":1587.6,"int":47.7,"dia":"78"},{"wn":1588.2,"int":41.0,"dia":"78"},{"wn":1588.8,"int":31.0,"dia":"78"},{"wn":1589.4,"int":47.7,"dia":"78"},{"wn":1590.0,"int":31.0,"dia":"78"},{"wn":1590.6,"int":54.3,"dia":"78"},{"wn":1591.2,"int":31.0,"dia":"78"},{"wn":1591.8,"int":51.0,"dia":"78"},{"wn":1592.4,"int":37.7,"dia":"78"},{"wn":1593.0,"int":27.7,"dia":"78"},{"wn":1593.6,"int":41.0,"dia":"78"},{"wn":1594.2,"int":27.7,"dia":"78"},{"wn":1594.8,"int":51.0,"dia":"78"},{"wn":1595.4,"int":67.7,"dia":"78"},{"wn":1596.0,"int":14.3,"dia":"78"},{"wn":1596.6,"int":31.0,"dia":"78"},{"wn":1597.2,"int":91.0,"dia":"78"},{"wn":1597.8,"int":34.3,"dia":"78"},{"wn":1598.4,"int":1.0,"dia":"78"},{"wn":1599.0,"int":24.3,"dia":"78"},{"wn":1599.5,"int":31.0,"dia":"78"},{"wn":1600.0,"int":31.0,"dia":"78"}
    ]
  },
  "concat": [
    {
      "width": 332, "height": 330,
      "layer": [
        {"data": {"name": "t1"}, "mark": {"type": "line", "strokeWidth": 1.5, "interpolate": "monotone"},
         "encoding": {
           "x": {"field": "wn", "type": "quantitative", "scale": {"domain": [1100, 1200], "nice": false, "zero": false},
                 "axis": {"orient": "top", "title": null, "format": "d", "values": [1102.5, 1120, 1137.5, 1155, 1172.5, 1190], "labelExpr": "(datum.value == 1120 || datum.value == 1155 || datum.value == 1190) ? datum.label : ''", "tickSize": -5, "labelPadding": 11}},
           "y": {"field": "int", "type": "quantitative", "scale": {"domain": [0, 330], "nice": false, "zero": false},
                 "axis": {"title": "Intensidade Raman", "labels": false, "ticks": false, "domain": false, "titleFontSize": 29, "titlePadding": 22, "titleY": 172}},
           "color": {"field": "dia", "type": "nominal", "scale": {"domain": ["0", "05"], "range": ["#000000", "#0000ff"]}, "legend": {"title": "Dia"}}
         }},
        {"data": {"values": [{}]}, "mark": {"type": "text", "text": "Doad01", "align": "left", "baseline": "alphabetic", "fontSize": 27, "dx": 6, "dy": 31, "color": "#000"},
         "encoding": {"x": {"datum": 1100}, "y": {"datum": 330}}},
        {"data": {"values": [{}]}, "mark": {"type": "rule", "strokeWidth": 4, "color": "#000"},
         "encoding": {"x": {"datum": 1127.1}, "y": {"datum": 122.7}, "y2": {"datum": 160}}},
        {"data": {"values": [{}]}, "mark": {"type": "point", "shape": "M-0.3,0.5L0.3,0.5L0,-0.5Z", "filled": true, "size": 2704, "color": "#000", "opacity": 1},
         "encoding": {"x": {"datum": 1127.1}, "y": {"datum": 170.2}}}
      ]
    },
    {
      "width": 332, "height": 330,
      "layer": [
        {"data": {"name": "t2"}, "mark": {"type": "line", "strokeWidth": 1.5, "interpolate": "monotone"},
         "encoding": {
           "x": {"field": "wn", "type": "quantitative", "scale": {"domain": [1100, 1200], "nice": false, "zero": false},
                 "axis": {"orient": "top", "title": "N\u00a0ú\u00a0m\u00a0e\u00a0r\u00a0o\u00a0\u00a0d\u00a0e\u00a0\u00a0O\u00a0n\u00a0d\u00a0a\u00a0\u00a0(\u00a0c\u00a0m\u00a0⁻¹\u00a0)", "titleFontSize": 29, "titlePadding": 8, "format": "d", "values": [1102.5, 1120, 1137.5, 1155, 1172.5, 1190], "labelExpr": "(datum.value == 1120 || datum.value == 1155 || datum.value == 1190) ? datum.label : ''", "tickSize": -5, "labelPadding": 11}},
           "y": {"field": "int", "type": "quantitative", "scale": {"domain": [0, 330], "nice": false, "zero": false}, "axis": null},
           "color": {"field": "dia", "type": "nominal", "scale": {"domain": ["0", "50"], "range": ["#000000", "#0000ff"]}, "legend": {"title": "Dia"}}
         }},
        {"data": {"values": [{}]}, "mark": {"type": "text", "text": "Doad02", "align": "left", "baseline": "alphabetic", "fontSize": 27, "dx": 6, "dy": 31, "color": "#000"},
         "encoding": {"x": {"datum": 1100}, "y": {"datum": 330}}},
        {"data": {"values": [{}]}, "mark": {"type": "rule", "strokeWidth": 4, "color": "#000"},
         "encoding": {"x": {"datum": 1125.3}, "y": {"datum": 199.3}, "y2": {"datum": 162}}},
        {"data": {"values": [{}]}, "mark": {"type": "point", "shape": "M-0.3,-0.5L0.3,-0.5L0,0.5Z", "filled": true, "size": 2704, "color": "#000", "opacity": 1},
         "encoding": {"x": {"datum": 1125.3}, "y": {"datum": 151.8}}}
      ]
    },
    {
      "width": 332, "height": 330,
      "layer": [
        {"data": {"name": "t3"}, "mark": {"type": "line", "strokeWidth": 1.2},
         "encoding": {
           "x": {"field": "wn", "type": "quantitative", "scale": {"domain": [1100, 1200], "nice": false, "zero": false},
                 "axis": {"orient": "top", "title": null, "format": "d", "values": [1102.5, 1120, 1137.5, 1155, 1172.5, 1190], "labelExpr": "(datum.value == 1120 || datum.value == 1155 || datum.value == 1190) ? datum.label : ''", "tickSize": -5, "labelPadding": 11}},
           "y": {"field": "int", "type": "quantitative", "scale": {"domain": [0, 330], "nice": false, "zero": false}, "axis": null},
           "color": {"field": "dia", "type": "nominal", "scale": {"domain": ["0", "78"], "range": ["#000000", "#0000ff"]}, "legend": {"title": "Dia"}}
         }},
        {"data": {"values": [{}]}, "mark": {"type": "text", "text": "Doad03", "align": "left", "baseline": "alphabetic", "fontSize": 27, "dx": 6, "dy": 31, "color": "#000"},
         "encoding": {"x": {"datum": 1100}, "y": {"datum": 330}}},
        {"data": {"values": [{}]}, "mark": {"type": "rule", "strokeWidth": 4, "color": "#000"},
         "encoding": {"x": {"datum": 1126.1}, "y": {"datum": 236.7}, "y2": {"datum": 200.5}}},
        {"data": {"values": [{}]}, "mark": {"type": "point", "shape": "M-0.3,-0.5L0.3,-0.5L0,0.5Z", "filled": true, "size": 2704, "color": "#000", "opacity": 1},
         "encoding": {"x": {"datum": 1126.1}, "y": {"datum": 189.7}}}
      ]
    },
    {
      "width": 332, "height": 330,
      "layer": [
        {"data": {"name": "b1"}, "mark": {"type": "line", "strokeWidth": 1.5, "interpolate": "monotone"},
         "encoding": {
           "x": {"field": "wn", "type": "quantitative", "scale": {"domain": [1480, 1600], "nice": false, "zero": false},
                 "axis": {"orient": "bottom", "title": null, "format": "d", "values": [1500, 1525, 1550, 1575, 1600], "labelExpr": "(datum.value == 1500 || datum.value == 1550 || datum.value == 1600) ? datum.label : ''", "tickSize": -5, "labelPadding": 11}},
           "y": {"field": "int", "type": "quantitative", "scale": {"domain": [0, 330], "nice": false, "zero": false},
                 "axis": {"title": "Intensidade Raman", "labels": false, "ticks": false, "domain": false, "titleFontSize": 29, "titlePadding": 22, "titleY": 171}},
           "color": {"field": "dia", "type": "nominal", "scale": {"domain": ["0", "05"], "range": ["#000000", "#0000ff"]}, "legend": {"title": "Dia"}}
         }},
        {"data": {"values": [{}]}, "mark": {"type": "text", "text": "Doad01", "align": "left", "baseline": "alphabetic", "fontSize": 27, "dx": 6, "dy": 31, "color": "#000"},
         "encoding": {"x": {"datum": 1480}, "y": {"datum": 330}}},
        {"data": {"values": [{}]}, "mark": {"type": "rule", "strokeWidth": 4, "color": "#000"},
         "encoding": {"x": {"datum": 1553.9}, "y": {"datum": 223.3}, "y2": {"datum": 187}}},
        {"data": {"values": [{}]}, "mark": {"type": "point", "shape": "M-0.3,-0.5L0.3,-0.5L0,0.5Z", "filled": true, "size": 2704, "color": "#000", "opacity": 1},
         "encoding": {"x": {"datum": 1553.9}, "y": {"datum": 176.3}}}
      ]
    },
    {
      "width": 332, "height": 330,
      "layer": [
        {"data": {"name": "b2"}, "mark": {"type": "line", "strokeWidth": 1.5, "interpolate": "monotone"},
         "encoding": {
           "x": {"field": "wn", "type": "quantitative", "scale": {"domain": [1480, 1600], "nice": false, "zero": false},
                 "axis": {"orient": "bottom", "title": "N\u00a0ú\u00a0m\u00a0e\u00a0r\u00a0o\u00a0\u00a0d\u00a0e\u00a0\u00a0O\u00a0n\u00a0d\u00a0a\u00a0\u00a0(\u00a0c\u00a0m\u00a0⁻¹\u00a0)", "titleFontSize": 29, "titlePadding": 11, "titleX": 148, "format": "d", "values": [1500, 1525, 1550, 1575, 1600], "labelExpr": "(datum.value == 1500 || datum.value == 1550 || datum.value == 1600) ? datum.label : ''", "tickSize": -5, "labelPadding": 11}},
           "y": {"field": "int", "type": "quantitative", "scale": {"domain": [0, 330], "nice": false, "zero": false}, "axis": null},
           "color": {"field": "dia", "type": "nominal", "scale": {"domain": ["0", "50"], "range": ["#000000", "#0000ff"]}, "legend": {"title": "Dia"}}
         }},
        {"data": {"values": [{}]}, "mark": {"type": "text", "text": "Doad02", "align": "left", "baseline": "alphabetic", "fontSize": 11, "dx": 6, "dy": 14, "color": "#000"},
         "encoding": {"x": {"datum": 1480}, "y": {"datum": 330}}},
        {"data": {"values": [{}]}, "mark": {"type": "rule", "strokeWidth": 4, "color": "#000"},
         "encoding": {"x": {"datum": 1545.1}, "y": {"datum": 263.3}, "y2": {"datum": 227}}},
        {"data": {"values": [{}]}, "mark": {"type": "point", "shape": "M-0.3,-0.5L0.3,-0.5L0,0.5Z", "filled": true, "size": 2704, "color": "#000", "opacity": 1},
         "encoding": {"x": {"datum": 1545.1}, "y": {"datum": 216.3}}}
      ]
    },
    {
      "width": 332, "height": 330,
      "layer": [
        {"data": {"name": "b3"}, "mark": {"type": "line", "strokeWidth": 1.2},
         "encoding": {
           "x": {"field": "wn", "type": "quantitative", "scale": {"domain": [1480, 1600], "nice": false, "zero": false},
                 "axis": {"orient": "bottom", "title": null, "format": "d", "values": [1500, 1525, 1550, 1575, 1600], "labelExpr": "(datum.value == 1500 || datum.value == 1550 || datum.value == 1600) ? datum.label : ''", "tickSize": -5, "labelPadding": 11}},
           "y": {"field": "int", "type": "quantitative", "scale": {"domain": [0, 330], "nice": false, "zero": false}, "axis": null},
           "color": {"field": "dia", "type": "nominal", "scale": {"domain": ["0", "78"], "range": ["#000000", "#0000ff"]}, "legend": {"title": "Dia"}}
         }},
        {"data": {"values": [{}]}, "mark": {"type": "text", "text": "Doad03", "align": "left", "baseline": "alphabetic", "fontSize": 11, "dx": 6, "dy": 14, "color": "#000"},
         "encoding": {"x": {"datum": 1480}, "y": {"datum": 330}}},
        {"data": {"values": [{}]}, "mark": {"type": "rule", "strokeWidth": 4, "color": "#000"},
         "encoding": {"x": {"datum": 1554.1}, "y": {"datum": 208.3}, "y2": {"datum": 172}}},
        {"data": {"values": [{}]}, "mark": {"type": "point", "shape": "M-0.3,-0.5L0.3,-0.5L0,0.5Z", "filled": true, "size": 2704, "color": "#000", "opacity": 1},
         "encoding": {"x": {"datum": 1554.1}, "y": {"datum": 161.3}}}
      ]
    }
  ],
  "config": {
    "font": "Liberation Serif",
    "view": {"stroke": "#222222", "strokeWidth": 2},
    "axis": {"domain": false, "grid": false, "labelFont": "Liberation Serif", "labelFontSize": 23, "labelColor": "#000000", "tickColor": "#222222", "tickWidth": 1.5, "titleFont": "Liberation Serif", "titleFontWeight": "normal", "titleColor": "#000000", "labelFlush": false, "labelOverlap": false, "labelBound": false},
    "legend": {"orient": "top-right", "offset": 9, "padding": 0, "titleFont": "Liberation Serif", "labelFont": "Liberation Serif", "titleFontSize": 25, "labelFontSize": 25, "titleFontWeight": "normal", "titleColor": "#000000", "labelColor": "#000000", "symbolType": "M-3,0H3", "symbolSize": 400, "symbolStrokeWidth": 1.5, "labelOffset": 24, "rowPadding": 1, "titlePadding": 14, "titleBaseline": "line-top", "titleLineHeight": 41, "titleAnchor": "end", "titleAlign": "right"},
    "text": {"font": "Liberation Serif"}
  }
}
